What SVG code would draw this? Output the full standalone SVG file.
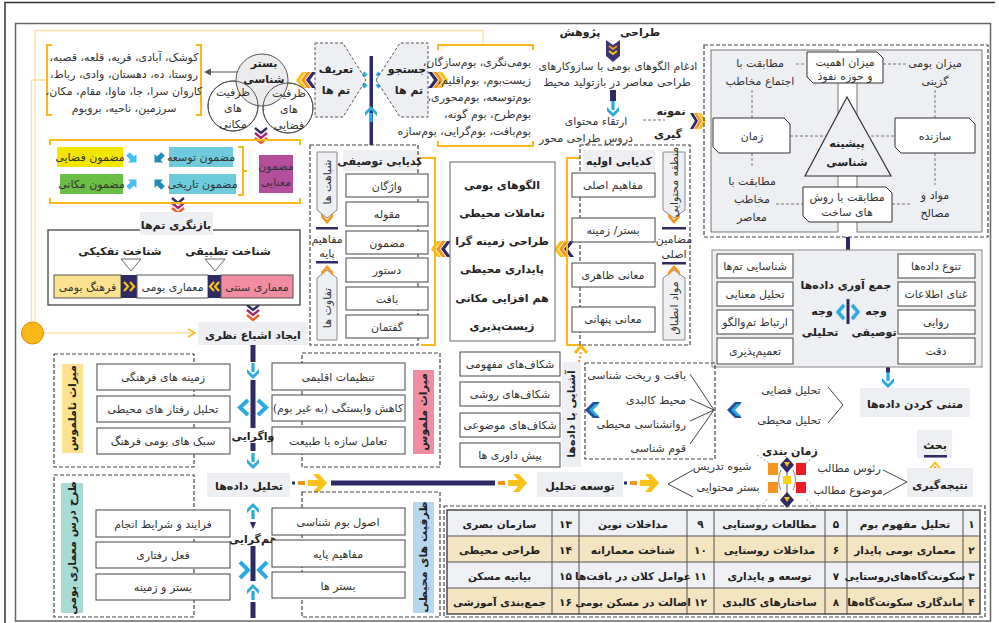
<svg xmlns="http://www.w3.org/2000/svg" xmlns:xlink="http://www.w3.org/1999/xlink" width="999" height="623" viewBox="0 0 999 623">
<style>
text{font-family:"DejaVu Sans","Noto Sans",sans-serif;fill:#333;direction:rtl;text-anchor:middle;font-size:11px}
.b{font-weight:bold;fill:#222}
.r{text-anchor:start}
.box{fill:#fff;stroke:#555;stroke-width:1.1}
.gb{fill:#eeeff2;stroke:#777;stroke-width:1}
.lb{fill:#eeeff2}
.dash{fill:none;stroke:#444;stroke-width:1.2;stroke-dasharray:4 2}
.dl{fill:none;stroke:#777;stroke-width:1;stroke-dasharray:3 2}
.yl{fill:none;stroke:#fbb919;stroke-width:2}
.yt{fill:none;stroke:#fde0a0;stroke-width:1.3}
.nv{fill:#2e2a63}
.cy{fill:#29abe2}
.cys{fill:none;stroke:#29abe2;stroke-width:4}
.ln{fill:none;stroke:#444;stroke-width:1}
.tb text{font-size:10.5px;font-weight:bold;fill:#222}
</style>
<defs>
<g id="chL">
<polygon points="0,0 6,-8 10,-8 4,0 10,8 6,8" fill="#fcc116"/>
<polygon points="5,0 11,-8 15,-8 9,0 15,8 11,8" fill="#f7941d"/>
<polygon points="10,0 16,-8 20,-8 14,0 20,8 16,8" fill="#2e2a63"/>
</g>
<g id="v3" fill="none" stroke-width="2.3">
<path d="M-6,0 L0,5 L6,0" stroke="#2e2a63"/>
<path d="M-6,5 L0,10 L6,5" stroke="#a8236b"/>
<path d="M-6,10 L0,15 L6,10" stroke="#f15a24"/>
</g>
<g id="cyD">
<rect x="-1.6" y="-9" width="3.2" height="9" fill="#29abe2"/>
<polygon points="-6,-3 0,3 6,-3 6,1 0,7 -6,1" fill="#29abe2"/>
</g>
<g id="bch">
<polygon points="0,0 8,-8 15,-8 7,0 15,8 8,8" fill="#1f4e9c"/>
<polygon points="4,0 10,-6 14,-6 8,0 14,6 10,6" fill="#29abe2"/>
</g>
<g id="yar">
<rect x="0" y="-1.5" width="3" height="3" fill="#2e2a63"/>
<rect x="6" y="-2" width="7" height="4" fill="#f7941d"/>
<polygon points="16,-3 26,-3 21,-9 27,-9 35,0 27,9 21,9 26,3 16,3" fill="#fcc116"/>
</g>
<g id="upO">
<polygon points="-6,4 0,-3 6,4 6,8 0,1 -6,8" fill="#f7941d"/>
<polygon points="-6,-1 0,-8 6,-1 6,2 0,-5 -6,2" fill="#fcc116"/>
</g>
<g id="dnO">
<polygon points="-6,-4 0,3 6,-4 6,0 0,7 -6,0" fill="#f7941d"/>
</g>
</defs>

<g id="frame">
<path d="M5,623 V2.5 H995" fill="none" stroke="#333" stroke-width="1.5"/>
<rect x="15.5" y="23.5" width="975" height="597.5" fill="none" stroke="#666" stroke-width="1.5"/>
</g>

<g id="connectors">
<path class="yt" d="M483,45 V30.5 H35 V322"/>
<path class="yt" d="M47,80 H31.5 V322"/>
<path class="yt" d="M44,333 H193"/>
<polyline points="188,329 195,333 188,337" fill="none" stroke="#fbb919" stroke-width="1.5"/>
<line x1="240" y1="72" x2="209" y2="72" stroke="#888" stroke-width="1.5"/>
<polygon points="204,72 211,68.5 211,75.5" fill="#555"/>
<use href="#v3" x="261" y="128"/>
<use href="#v3" x="178" y="198"/>
<use href="#v3" x="253" y="305"/>
<rect class="nv" x="369.5" y="56" width="3.5" height="89"/>
<use href="#cyD" transform="translate(371,113) rotate(180)"/>
<path class="cys" d="M366,73 L359,80 L366,87"/>
<path class="cys" d="M377,73 L384,80 L377,87"/>
<use href="#chL" x="296" y="80"/>
<use href="#chL" transform="translate(448,80) scale(-1,1)"/>
<path d="M606,40 L613,45 L620,40 V56 L613,62 L606,56 Z" fill="#3b3575"/>
<path d="M609,46 L613,49 L617,46" fill="none" stroke="#f7941d" stroke-width="2"/>
<path d="M609,51 L613,54 L617,51" fill="none" stroke="#fcc116" stroke-width="2"/>
<rect class="nv" x="610" y="90" width="6" height="11"/>
<use href="#cyD" x="613" y="110"/>
<line class="dl" x1="643" y1="120" x2="665" y2="120"/>
<use href="#chL" transform="translate(706,121) scale(-0.8,1)"/>
<use href="#chL" x="431" y="249"/>
<use href="#chL" x="554" y="249"/>
<rect class="nv" x="846" y="237" width="4" height="16"/>
<use href="#cyD" x="848" y="263"/>
<rect class="nv" x="886" y="355" width="4" height="18"/>
<use href="#cyD" x="888" y="381"/>
<path class="ln" d="M714,410 L690,374 M714,410 L690,399 M714,410 L690,421 M714,410 L690,444"/>
<use href="#bch" x="585" y="410"/>
<use href="#bch" x="727" y="410"/>
<path class="ln" d="M828,387 L843,405 L828,423"/>
<path d="M579,362 L581,352" stroke="#f7941d" stroke-width="2" stroke-dasharray="2 2"/>
<path d="M575,353 L581,346 L587,353" fill="none" stroke="#fbb919" stroke-width="3"/>
<rect class="nv" x="250.5" y="345" width="5" height="17"/>
<use href="#cyD" x="253" y="372"/>
<rect class="nv" x="250.5" y="380" width="5" height="48"/>
<path class="cys" d="M248,400 L240,407.5 L248,415"/>
<path class="cys" d="M258,400 L266,407.5 L258,415"/>
<rect class="nv" x="250.5" y="443" width="5" height="8"/>
<use href="#cyD" x="253" y="462"/>
<use href="#cyD" transform="translate(253,510) rotate(180)"/>
<polygon class="nv" points="250,522 256,522 253,529"/>
<rect class="nv" x="250.5" y="546" width="5" height="35"/>
<path class="cys" d="M240,562 L248,570 L240,578"/>
<path class="cys" d="M267,562 L259,570 L267,578"/>
<use href="#cyD" transform="translate(253,591) rotate(180)"/>
<rect class="nv" x="250.5" y="602" width="5" height="16"/>
<use href="#yar" x="292" y="483"/>
<rect class="nv" x="331" y="480.5" width="164" height="5"/>
<use href="#yar" x="492" y="483"/>
<use href="#yar" x="624" y="483"/>
<path class="ln" d="M693,470 L668,484 L693,497"/>
<path class="ln" d="M883,470 L907,482 L883,495"/>
<use href="#upO" x="935" y="469"/>
</g>

<g id="bastar">
<path class="yl" d="M52,45 H47 V115 H52"/>
<path class="yl" d="M196,45 H201 V115 H196"/>
<text x="124" y="61">کوشک، آبادی، قریه، قلعه، قصبه،</text>
<text x="124" y="78">روستا، ده، دهستان، وادی، رباط،</text>
<text x="124" y="95">کاروان سرا، جا، ماوا، مقام، مکان،</text>
<text x="124" y="112">سرزمین، ناحیه، بروبوم</text>
<circle cx="233" cy="106" r="25" fill="#fff" stroke="#555"/>
<circle cx="288" cy="108" r="25" fill="#fff" stroke="#555"/>
<circle cx="262" cy="80" r="26" fill="#ececee" stroke="#555"/>
<circle cx="233" cy="106" r="25" fill="none" stroke="#555"/>
<circle cx="288" cy="108" r="25" fill="none" stroke="#555"/>
<text class="b" x="264" y="67" font-size="11.5">بستر</text>
<text class="b" x="264" y="83" font-size="11.5">شناسی</text>
<text x="233" y="96" font-size="10">ظرفیت</text>
<text x="233" y="112" font-size="10">های</text>
<text x="233" y="128" font-size="10">مکانی</text>
<text x="289" y="97" font-size="10">ظرفیت</text>
<text x="289" y="113" font-size="10">های</text>
<text x="289" y="129" font-size="10">فضایی</text>
</g>

<g id="mazmun">
<path class="yl" d="M50,145 V140 H300 V145"/>
<path class="yl" d="M50,198 V203 H300 V198"/>
<rect x="57" y="147" width="66" height="20" fill="#f2e500"/>
<text x="90" y="161" font-size="10.5">مضمون فضایی</text>
<rect x="60" y="174" width="63" height="20" fill="#6abd45"/>
<text x="91.5" y="188" font-size="10.5">مضمون مکانی</text>
<rect x="169" y="147" width="64" height="20" fill="#6dcbdc"/>
<text x="201" y="161" font-size="10.5">مضمون توسعه</text>
<rect x="169" y="174" width="67" height="20" fill="#6dcbdc"/>
<text x="202.5" y="188" font-size="10.5">مضمون تاریخی</text>
<path class="yl" d="M238,147 H243 V195 H238 M243,171 H247"/>
<rect x="259" y="155" width="34" height="38" fill="#b54f9c"/>
<text x="276" y="170" font-size="10">مضمون</text>
<text x="276" y="186" font-size="10">معنایی</text>
<polygon points="0,-2.5 6,-2.5 6,-6 12,0 6,6 6,2.5 0,2.5" fill="#45c0ee" transform="translate(128,154) rotate(45)"/>
<polygon points="0,-2.5 6,-2.5 6,-6 12,0 6,6 6,2.5 0,2.5" fill="#1a8fb8" transform="translate(163,154) rotate(135)"/>
<polygon points="0,-2.5 6,-2.5 6,-6 12,0 6,6 6,2.5 0,2.5" fill="#45c0ee" transform="translate(128,188) rotate(-45)"/>
<polygon points="0,-2.5 6,-2.5 6,-6 12,0 6,6 6,2.5 0,2.5" fill="#1a8fb8" transform="translate(163,188) rotate(-135)"/>
</g>

<g id="baznegari">
<rect x="48" y="230" width="252" height="75" fill="#fff" stroke="#444" stroke-width="1.3"/>
<rect class="lb" x="140" y="212" width="73" height="23"/>
<text class="b" x="176" y="229" font-size="12.5">بازنگری تم‌ها</text>
<text class="b" x="120" y="255" font-size="11">شناخت تفکیکی</text>
<text class="b" x="228" y="255" font-size="11">شناخت تطبیقی</text>
<polygon points="121,259 141,259 131,271" fill="#fff" stroke="#666"/>
<polygon points="205,259 225,259 215,271" fill="#fff" stroke="#666"/>
<rect x="54" y="275" width="67" height="23" fill="#fce28f" stroke="#555"/>
<text x="87.5" y="291" font-size="10.5">فرهنگ بومی</text>
<rect class="nv" x="121" y="275" width="16" height="23"/>
<path d="M124,282 L128,286.5 L124,291 M130,282 L134,286.5 L130,291" fill="none" stroke="#fcc116" stroke-width="2.2"/>
<rect x="137" y="275" width="71" height="23" fill="#fff" stroke="#555"/>
<text x="172.5" y="291" font-size="10.5">معماری بومی</text>
<rect class="nv" x="208" y="275" width="13" height="23"/>
<path d="M214,282 L210,286.5 L214,291 M219,282 L215,286.5 L219,291" fill="none" stroke="#fcc116" stroke-width="2.2"/>
<rect x="221" y="275" width="72" height="23" fill="#f18ca1" stroke="#555"/>
<text x="257" y="291" font-size="10.5">معماری سنتی</text>
</g>

<g id="ishba">
<circle cx="32.5" cy="333" r="11" fill="#fbb919" stroke="#e08a00"/>
<rect class="lb" x="198" y="322" width="110" height="23"/>
<text class="b" x="253" y="339" font-size="13">ایجاد اشباع نظری</text>
</g>

<g id="tamha">
<polygon points="315,43 343,43 366,80 343,117 315,117" fill="#eeeff2" stroke="#555" stroke-dasharray="3 2"/>
<text class="b" x="336" y="73" font-size="12.5">تعریف</text>
<text class="b" x="336" y="94" font-size="12.5">تم ها</text>
<polygon points="376,80 400,43 428,43 428,117 400,117" fill="#eeeff2" stroke="#555" stroke-dasharray="3 2"/>
<text class="b" x="407" y="73" font-size="12.5">جستجو</text>
<text class="b" x="409" y="94" font-size="12.5">تم ها</text>
</g>

<g id="boom">
<path class="yl" d="M438,50 V45 H533 V50"/>
<path class="yl" d="M438,141 V146 H533 V141"/>
<text class="r" x="531" y="66">بومی‌نگری، بوم‌سازگان،</text>
<text class="r" x="531" y="84">زیست‌بوم، بوم‌اقلیم،</text>
<text class="r" x="531" y="101">بوم‌توسعه، بوم‌محوری،</text>
<text class="r" x="531" y="118">بوم‌طرح، بوم گونه،</text>
<text class="r" x="531" y="135">بوم‌بافت، بوم‌گرایی، بوم‌سازه</text>
</g>

<g id="tarahi">
<text class="b" x="640" y="36" font-size="14">طراحی</text>
<text class="b" x="580" y="36" font-size="14">پژوهش</text>
<text x="618" y="70" font-size="10.5">ادغام الگوهای بومی با سازوکارهای</text>
<text x="617" y="86" font-size="10.5">طراحی معاصر در بازتولید محیط</text>
<text x="596" y="125" font-size="10.5">ارتقاء محتوای</text>
<text x="586" y="142" font-size="10.5">دروس طراحی محور</text>
<text class="b" x="671" y="115" font-size="13">نمونه</text>
<text class="b" x="668" y="138" font-size="13">گیری</text>
</g>

<g id="pishine">
<rect class="dash" x="704" y="45" width="284" height="192"/>
<rect x="711" y="50" width="127" height="182" fill="#eeeff2" stroke="#777"/>
<rect x="857" y="50" width="125" height="182" fill="#eeeff2" stroke="#777"/>
<path class="dl" d="M796,64 H806 M883,64 H907 M752,90 V118 M935,90 V118 M790,136 H826 M871,136 H895 M752,153 V168 M935,153 V185 M776,204 H803 M892,204 H910"/>
<polygon points="847,97 805,176 891,176" fill="#eeeff2" stroke="#333" stroke-width="1.2"/>
<text class="b" x="847" y="147" font-size="13">پیشینه</text>
<text class="b" x="847" y="166" font-size="13">شناسی</text>
<polygon points="807,52 877,52 883,58 883,83 813,83 807,77" fill="#fff" stroke="#333"/>
<text x="845" y="66" font-size="10.5">میزان اهمیت</text>
<text x="845" y="80" font-size="10.5">و حوزه نفوذ</text>
<polygon points="803,187 886,187 892,193 892,222 809,222 803,216" fill="#fff" stroke="#333"/>
<text x="847" y="201" font-size="10.5">مطابقت با روش</text>
<text x="847" y="216" font-size="10.5">های ساخت</text>
<polygon points="713,118 784,118 790,124 790,153 719,153 713,147" fill="#fff" stroke="#333"/>
<text x="752" y="140">زمان</text>
<polygon points="895,118 969,118 975,124 975,153 901,153 895,147" fill="#fff" stroke="#333"/>
<text x="935" y="140">سازنده</text>
<text x="760" y="67" fill="#444">مطابقت با</text>
<text x="760" y="85" fill="#444">اجتماع مخاطب</text>
<text x="935" y="67" fill="#444">میزان بومی</text>
<text x="935" y="85" fill="#444">گزینی</text>
<text x="752" y="185" fill="#444">مطابقت با</text>
<text x="752" y="203" fill="#444">مخاطب</text>
<text x="752" y="221" fill="#444">معاصر</text>
<text x="935" y="199" fill="#444">مواد و</text>
<text x="935" y="217" fill="#444">مصالح</text>
</g>

<g id="jamavari">
<rect x="712" y="250" width="270" height="117" fill="#eeeff2" stroke="#888"/>
<rect class="box" x="717" y="254" width="76" height="24"/><text x="755" y="270" font-size="10.5">شناسایی تم‌ها</text>
<rect class="box" x="717" y="282" width="76" height="24"/><text x="755" y="298" font-size="10.5">تحلیل معنایی</text>
<rect class="box" x="717" y="310" width="76" height="24"/><text x="755" y="326" font-size="10.5">ارتباط تم‌والگو</text>
<rect class="box" x="717" y="338" width="76" height="26"/><text x="755" y="355" font-size="10.5">تعمیم‌پذیری</text>
<rect class="box" x="898" y="254" width="77" height="24"/><text x="936" y="270" font-size="10.5">تنوع داده‌ها</text>
<rect class="box" x="898" y="282" width="77" height="24"/><text x="936" y="298" font-size="10.5">غنای اطلاعات</text>
<rect class="box" x="898" y="310" width="77" height="24"/><text x="936" y="326" font-size="10.5">روایی</text>
<rect class="box" x="898" y="338" width="77" height="26"/><text x="936" y="355" font-size="10.5">دقت</text>
<text class="b" x="846" y="289" font-size="12">جمع آوری داده‌ها</text>
<text class="b" x="876" y="315" font-size="12">وجه</text>
<text class="b" x="874" y="336" font-size="12">توصیفی</text>
<text class="b" x="822" y="315" font-size="12">وجه</text>
<text class="b" x="820" y="336" font-size="12">تحلیلی</text>
<rect class="nv" x="846.5" y="299" width="3" height="25"/>
<path d="M844,305 L838,312 L844,319 M852,305 L858,312 L852,319" fill="none" stroke="#29abe2" stroke-width="3.5"/>
</g>

<g id="matni">
<rect class="lb" x="860" y="388" width="110" height="29"/>
<text class="b" x="915" y="408" font-size="13">متنی کردن داده‌ها</text>
<text x="791" y="394">تحلیل فضایی</text>
<text x="789" y="424">تحلیل محیطی</text>
</g>

<g id="kodtosifi">
<rect class="dash" x="310" y="145" width="108" height="200"/>
<rect class="lb" x="343" y="150" width="74" height="21"/>
<text class="b" x="380" y="165" font-size="11.5">کدیابی توصیفی</text>
<polygon points="317,152 337,152 337,210 327,218 317,210" fill="#eeeff2" stroke="#888"/>
<use href="#dnO" x="327" y="217"/>
<text transform="translate(327,182) rotate(-90)" dy="0.35em" font-size="10.5">شباهت ها</text>
<rect class="nv" x="316" y="227" width="22" height="2.5"/>
<text x="327" y="243" font-size="10.5">مفاهیم</text>
<text x="327" y="257" font-size="10.5">پایه</text>
<rect class="nv" x="316" y="261" width="22" height="2.5"/>
<polygon points="317,278 327,270 337,278 337,340 317,340" fill="#eeeff2" stroke="#888"/>
<use href="#dnO" transform="translate(327,272) scale(1,-1)"/>
<text transform="translate(327,308) rotate(-90)" dy="0.35em" font-size="10.5">تفاوت ها</text>
<rect class="box" x="346" y="174" width="82" height="23"/><text x="387" y="190">واژگان</text>
<rect class="box" x="346" y="202" width="82" height="24"/><text x="387" y="218">مقوله</text>
<rect class="box" x="346" y="231" width="82" height="23"/><text x="387" y="247">مضمون</text>
<rect class="box" x="346" y="258" width="82" height="24"/><text x="387" y="274">دستور</text>
<rect class="box" x="346" y="287" width="82" height="23"/><text x="387" y="303">بافت</text>
<rect class="box" x="346" y="315" width="82" height="23"/><text x="387" y="331">گفتمان</text>
<path class="yl" d="M421,158 H435 V345 H421"/>
</g>

<g id="center">
<rect x="450" y="162" width="105" height="179" fill="#fff" stroke="#666"/>
<text class="b" x="502" y="189" font-size="13.5">الگوهای بومی</text>
<text class="b" x="502" y="217" font-size="13.5">تعاملات محیطی</text>
<text class="b" x="502" y="245" font-size="13.5">طراحی زمینه گرا</text>
<text class="b" x="502" y="273" font-size="13.5">پایداری محیطی</text>
<text class="b" x="502" y="302" font-size="13.5">هم افزایی مکانی</text>
<text class="b" x="502" y="330" font-size="13.5">زیست‌پذیری</text>
</g>

<g id="kodavalie">
<path class="yl" d="M580,158 H567 V345 H580"/>
<rect class="dash" x="580" y="145" width="110" height="200"/>
<rect class="lb" x="583" y="150" width="72" height="21"/>
<text class="b" x="619" y="165" font-size="11.5">کدیابی اولیه</text>
<rect class="box" x="572" y="173" width="83" height="24"/><text x="613" y="189">مفاهیم اصلی</text>
<rect class="box" x="572" y="218" width="83" height="24"/><text x="613" y="234">بستر/ زمینه</text>
<rect class="box" x="572" y="263" width="83" height="24"/><text x="613" y="279">معانی ظاهری</text>
<rect class="box" x="572" y="307" width="83" height="25"/><text x="613" y="323">معانی پنهانی</text>
<polygon points="663,152 685,152 685,210 674,218 663,210" fill="#eeeff2" stroke="#888"/>
<use href="#dnO" x="674" y="217"/>
<text transform="translate(674,182) rotate(-90)" dy="0.35em" font-size="9.5">منطقه محتوایی</text>
<rect class="nv" x="662" y="227" width="24" height="2.5"/>
<text x="674" y="243" font-size="10.5">مضامین</text>
<text x="674" y="258" font-size="10.5">اصلی</text>
<rect class="nv" x="662" y="262" width="24" height="2.5"/>
<polygon points="663,278 674,270 685,278 685,340 663,340" fill="#eeeff2" stroke="#888"/>
<use href="#dnO" transform="translate(674,272) scale(1,-1)"/>
<text transform="translate(674,308) rotate(-90)" dy="0.35em" font-size="9.5">مواد انطباق</text>
</g>

<g id="shekaf">
<rect class="box" x="460" y="352" width="100" height="24"/><text x="510" y="368">شکاف‌های مفهومی</text>
<rect class="box" x="460" y="382" width="100" height="24"/><text x="510" y="398">شکاف‌های روشی</text>
<rect class="box" x="460" y="413" width="100" height="24"/><text x="510" y="429">شکاف‌های موضوعی</text>
<rect class="box" x="460" y="443" width="100" height="24"/><text x="510" y="459">پیش داوری ها</text>
<rect class="lb" x="562" y="362" width="19" height="105"/>
<text class="b" transform="translate(571.5,414) rotate(-90)" dy="0.35em" font-size="11.5">آشنایی با داده‌ها</text>
</g>

<g id="baft">
<rect class="dash" x="585" y="363" width="130" height="96"/>
<text class="r" x="686" y="379" font-size="10.5">بافت و ریخت شناسی</text>
<text class="r" x="686" y="404" font-size="10.5">محیط کالبدی</text>
<text class="r" x="686" y="428" font-size="10.5">روانشناسی محیطی</text>
<text class="r" x="686" y="452" font-size="10.5">قوم شناسی</text>
</g>

<g id="namalmus">
<rect class="dash" x="54" y="354" width="140" height="113"/>
<rect x="62" y="364" width="21" height="89" fill="#fce28f"/>
<text class="b" transform="translate(72.5,408) rotate(-90)" dy="0.35em" font-size="11">میراث ناملموس</text>
<rect class="box" x="97" y="364" width="133" height="26"/><text x="163" y="381">زمینه های فرهنگی</text>
<rect class="box" x="97" y="396" width="133" height="26"/><text x="163" y="413">تحلیل رفتار های محیطی</text>
<rect class="box" x="97" y="428" width="133" height="26"/><text x="163" y="445">سبک های بومی فرهنگ</text>
</g>

<g id="malmus">
<rect class="dash" x="302" y="353" width="138" height="114"/>
<rect x="413" y="370" width="21" height="84" fill="#f18ca1"/>
<text class="b" transform="translate(423.5,412) rotate(-90)" dy="0.35em" font-size="11">میراث ملموس</text>
<rect class="box" x="272" y="363" width="133" height="27"/><text x="338" y="381">تنظیمات اقلیمی</text>
<rect class="box" x="272" y="395" width="133" height="26"/><text x="338" y="412" font-size="10.5">کاهش وابستگی (به غیر بوم)</text>
<rect class="box" x="272" y="427" width="133" height="27"/><text x="338" y="445">تعامل سازه با طبیعت</text>
</g>

<g id="labels">
<text class="b" x="253" y="440" font-size="10.5">واگرایی</text>
<rect class="lb" x="207" y="473" width="83" height="24"/>
<text class="b" x="249" y="490" font-size="13">تحلیل داده‌ها</text>
<text class="b" x="253" y="543" font-size="10.5">هم‌گرایی</text>
<rect class="lb" x="537" y="472" width="86" height="25"/>
<text class="b" x="580" y="490" font-size="13">توسعه تحلیل</text>
<text x="722" y="470" font-size="10.5">شیوه تدریس</text>
<text x="728" y="491" font-size="10.5">بستر محتوایی</text>
</g>

<g id="tarhdars">
<rect class="dash" x="54" y="475" width="140" height="142"/>
<rect x="61" y="483" width="22" height="130" fill="#a8dbd5"/>
<text class="b" transform="translate(72,548) rotate(-90)" dy="0.35em" font-size="11">طرح درس معماری بومی</text>
<rect class="box" x="96" y="510" width="134" height="27"/><text x="163" y="528">فرایند و شرایط انجام</text>
<rect class="box" x="96" y="542" width="134" height="26"/><text x="163" y="559">فعل رفتاری</text>
<rect class="box" x="96" y="574" width="134" height="26"/><text x="163" y="591">بستر و زمینه</text>
</g>

<g id="zarfiat">
<rect class="dash" x="302" y="492" width="138" height="125"/>
<rect x="413" y="502" width="21" height="111" fill="#b5d8f0"/>
<text class="b" transform="translate(423.5,557) rotate(-90)" dy="0.35em" font-size="11">ظرفیت های محیطی</text>
<rect class="box" x="272" y="508" width="133" height="27"/><text x="338" y="526">اصول بوم شناسی</text>
<rect class="box" x="272" y="540" width="133" height="27"/><text x="338" y="558">مفاهیم پایه</text>
<rect class="box" x="272" y="572" width="133" height="26"/><text x="338" y="590">بستر ها</text>
</g>

<g id="zamanbandi">
<text class="b" x="790" y="455" font-size="12">زمان بندی</text>
<path d="M757,455 L769,463 M817,455 L805,463 M757,509 L769,498 M817,509 L805,498" stroke="#999" stroke-dasharray="2 2" fill="none"/>
<rect x="768" y="463" width="10" height="12" fill="#f7941d"/>
<rect x="796" y="463" width="10" height="12" fill="#ed1c24"/>
<rect x="768" y="482" width="10" height="11" fill="#f7941d"/>
<rect x="796" y="482" width="10" height="11" fill="#ed1c24"/>
<path d="M781,470 Q776,480 781,490 M793,470 Q798,480 793,490" stroke="#888" fill="none"/>
<line x1="787" y1="470" x2="787" y2="495" stroke="#555"/>
<rect x="783" y="476" width="8" height="8" fill="#fcd116"/>
<polygon class="nv" points="787,457 794,465 787,473 780,465"/>
<polygon points="784,462 790,462 787,467" fill="#fcc116"/>
<polygon class="nv" points="787,492 794,500 787,508 780,500"/>
<polygon points="784,497 790,497 787,502" fill="#fcc116"/>
<text x="849" y="472" font-size="10.5">رئوس مطالب</text>
<text x="848" y="494" font-size="10.5">موضوع مطالب</text>
</g>

<g id="natije">
<rect class="lb" x="917" y="430" width="35" height="28"/>
<text class="b" x="935" y="449" font-size="12.5">بحث</text>
<rect class="nv" x="924" y="455" width="23" height="2.5"/>
<rect class="lb" x="907" y="468" width="66" height="29"/>
<text class="b" x="940" y="489" font-size="13">نتیجه‌گیری</text>
</g>

<g id="table" class="tb">
<rect class="dash" x="444" y="506" width="541" height="111"/>
<rect x="447" y="510" width="533" height="26" fill="#eef0f4"/>
<rect x="447" y="536" width="533" height="26" fill="#f4e4c1"/>
<rect x="447" y="562" width="533" height="26" fill="#eef0f4"/>
<rect x="447" y="588" width="533" height="26" fill="#f4e4c1"/>
<rect x="447" y="510" width="533" height="104" fill="none" stroke="#333" stroke-width="1.3"/>
<path d="M447,536 H980 M447,562 H980 M447,588 H980 M552,510 V614 M579,510 V614 M687,510 V614 M714,510 V614 M825,510 V614 M847,510 V614 M963,510 V614" stroke="#555" fill="none"/>
<text x="905" y="528">تحلیل مفهوم بوم</text>
<text x="905" y="554">معماری بومی پایدار</text>
<text x="905" y="580" font-size="9.5">سکونت‌گاه‌های‌روستایی</text>
<text x="905" y="606" font-size="9.5">ماندگاری سکونت‌گاه‌ها</text>
<text x="971.5" y="528">۱</text>
<text x="971.5" y="554">۲</text>
<text x="971.5" y="580">۳</text>
<text x="971.5" y="606">۴</text>
<text x="769.5" y="528">مطالعات روستایی</text>
<text x="769.5" y="554">مداخلات روستایی</text>
<text x="769.5" y="580">توسعه و پایداری</text>
<text x="769.5" y="606">ساختارهای کالبدی</text>
<text x="836" y="528">۵</text>
<text x="836" y="554">۶</text>
<text x="836" y="580">۷</text>
<text x="836" y="606">۸</text>
<text x="633" y="528">مداخلات نوین</text>
<text x="633" y="554">شناخت معمارانه</text>
<text x="633" y="580" font-size="9.5">عوامل کلان در بافت‌ها</text>
<text x="633" y="606" font-size="9.5">اصالت در مسکن بومی</text>
<text x="700.5" y="528">۹</text>
<text x="700.5" y="554">۱۰</text>
<text x="700.5" y="580">۱۱</text>
<text x="700.5" y="606">۱۲</text>
<text x="499.5" y="528">سازمان بصری</text>
<text x="499.5" y="554">طراحی محیطی</text>
<text x="499.5" y="580">بیانیه مسکن</text>
<text x="499.5" y="606">جمع‌بندی آموزشی</text>
<text x="565.5" y="528">۱۳</text>
<text x="565.5" y="554">۱۴</text>
<text x="565.5" y="580">۱۵</text>
<text x="565.5" y="606">۱۶</text>
</g>
</svg>
